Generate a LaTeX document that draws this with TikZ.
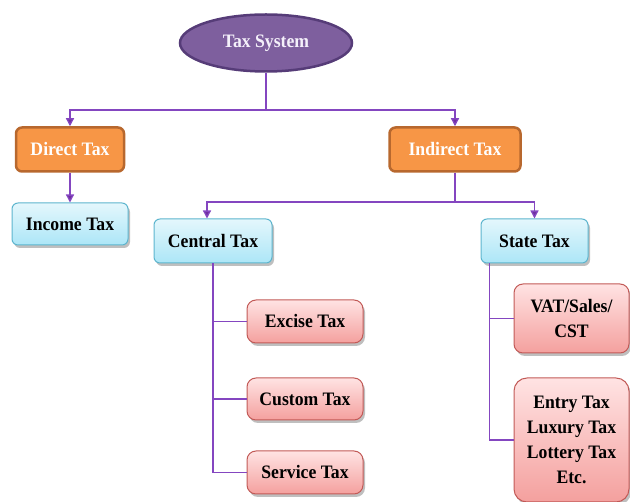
\documentclass[tikz,border=0pt]{standalone}
\usepackage{fontspec}
\setmainfont{Liberation Serif}[FakeStretch=0.93]
\usetikzlibrary{arrows.meta,shadows,shapes.geometric}
\definecolor{lineP}{HTML}{8446C0}
\definecolor{arrowP}{HTML}{7030A0}
\definecolor{ellFill}{HTML}{7E5F9E}
\definecolor{ellDraw}{HTML}{563C78}
\definecolor{orFill}{HTML}{F79646}
\definecolor{orDraw}{HTML}{B8682E}
\definecolor{blTop}{HTML}{E4F7FC}
\definecolor{blBot}{HTML}{ACE6F7}
\definecolor{blDraw}{HTML}{5DB5CE}
\definecolor{rdTop}{HTML}{FFE3E3}
\definecolor{rdBot}{HTML}{F4A09E}
\definecolor{rdDraw}{HTML}{C25A57}
\definecolor{txtW}{HTML}{F4F0FA}
\tikzset{
  every node/.style={font=\fontsize{19}{25}\selectfont\bfseries},
  conn/.style={draw=lineP, line width=1.3pt},
  arr/.style={conn, -{Triangle[width=8pt,length=8pt,fill=arrowP]}},
  shad/.style={drop shadow={shadow xshift=2pt, shadow yshift=-3pt, opacity=0.25, fill=black}},
  ellbox/.style={ellipse, draw=ellDraw, line width=2.5pt, fill=ellFill, text=txtW,
                 minimum width=172, minimum height=57, inner sep=0pt},
  orbox/.style={rectangle, rounded corners=6pt, draw=orDraw, line width=2.5pt, fill=orFill,
                text=white, inner sep=0pt},
  blbox/.style={rectangle, rounded corners=6pt, draw=blDraw, line width=1pt,
                top color=blTop, bottom color=blBot, text=black, inner sep=0pt, shad},
  rdbox/.style={rectangle, rounded corners=9pt, draw=rdDraw, line width=1pt,
                top color=rdTop, bottom color=rdBot, text=black, inner sep=0pt,
                align=center, shad},
}
\begin{document}
\begin{tikzpicture}[x=1pt,y=-1pt]
\useasboundingbox (0,0) rectangle (630,502);
\node[ellbox] (ts) at (266,43) {Tax System};
\node[orbox, minimum width=108, minimum height=44] (dt) at (70,149.5) {Direct Tax};
\node[orbox, minimum width=131, minimum height=44] (it) at (455,149.5) {Indirect Tax};
\node[blbox, minimum width=116, minimum height=42] (inc) at (70,224) {Income Tax};
\node[blbox, minimum width=118, minimum height=44] (ct) at (213,241) {Central Tax};
\node[blbox, minimum width=107, minimum height=44] (stt) at (534.5,241) {State Tax};
\node[rdbox, minimum width=116, minimum height=43] (ex) at (305,321.5) {Excise Tax};
\node[rdbox, minimum width=116, minimum height=42] (cu) at (305,399) {Custom Tax};
\node[rdbox, minimum width=116, minimum height=43] (se) at (305,472.5) {Service Tax};
\node[rdbox, minimum width=115, minimum height=69] (vat) at (571.5,318.5) {VAT/Sales/\\CST};
\node[rdbox, rounded corners=13pt, minimum width=115, minimum height=124] (oth) at (571.5,440) {Entry Tax\\Luxury Tax\\Lottery Tax\\Etc.};
\coordinate (j1) at (266,110);
\coordinate (j2) at (455,202);
\draw[conn] (ts.south) -- (j1);
\draw[arr] (j1) -| (dt.north);
\draw[arr] (j1) -| (it.north);
\draw[arr] (dt.south) -- (inc.north);
\draw[conn] (it.south) -- (j2);
\draw[arr] (j2) -| ([xshift=-6pt]ct.north);
\draw[arr] (j2) -| (stt.north);
\draw[conn] (ct.south) |- (ex.west);
\draw[conn] (ct.south) |- (cu.west);
\draw[conn] (ct.south) |- (se.west);
\draw[conn] ([xshift=9pt]stt.south west) |- (vat.west);
\draw[conn] ([xshift=9pt]stt.south west) |- (oth.west);
\end{tikzpicture}
\end{document}
